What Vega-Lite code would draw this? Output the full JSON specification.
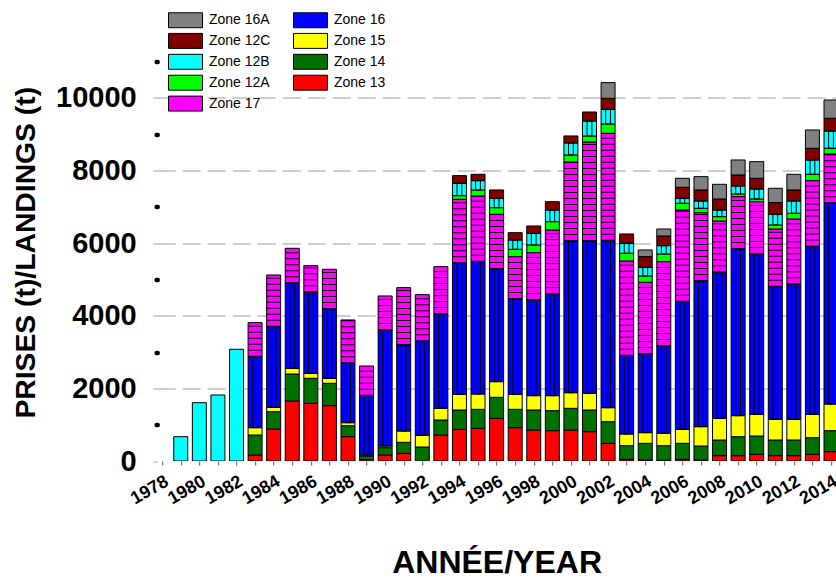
{
  "$schema": "https://vega.github.io/schema/vega-lite/v6.json",
  "width": 678.8,
  "height": 417.5,
  "autosize": {"type": "none"},
  "padding": {"left": 157.2, "top": 43.5, "right": 0, "bottom": 118},
  "background": "white",
  "config": {"view": {"stroke": null}, "font": "Liberation Sans"},
  "data": {"values": [
    {"year": 1979, "Zone 12B": 670},
    {"year": 1980, "Zone 12B": 1606},
    {"year": 1981, "Zone 12B": 1818},
    {"year": 1982, "Zone 12B": 3077},
    {"year": 1983, "Zone 13": 165, "Zone 14": 551, "Zone 15": 202, "Zone 16": 1956, "Zone 17": 937},
    {"year": 1984, "Zone 13": 882, "Zone 14": 477, "Zone 15": 120, "Zone 16": 2222, "Zone 17": 1423},
    {"year": 1985, "Zone 13": 1653, "Zone 14": 744, "Zone 15": 156, "Zone 16": 2342, "Zone 17": 964},
    {"year": 1986, "Zone 13": 1589, "Zone 14": 689, "Zone 15": 137, "Zone 16": 2232, "Zone 17": 734},
    {"year": 1987, "Zone 13": 1524, "Zone 14": 616, "Zone 15": 138, "Zone 16": 1910, "Zone 17": 1093},
    {"year": 1988, "Zone 13": 670, "Zone 14": 303, "Zone 15": 83, "Zone 16": 1635, "Zone 17": 1194},
    {"year": 1989, "Zone 13": 40, "Zone 14": 100, "Zone 15": 25, "Zone 16": 1635, "Zone 17": 817},
    {"year": 1990, "Zone 13": 165, "Zone 14": 202, "Zone 15": 46, "Zone 16": 3196, "Zone 17": 937},
    {"year": 1991, "Zone 13": 211, "Zone 14": 303, "Zone 15": 312, "Zone 16": 2370, "Zone 17": 1579},
    {"year": 1992, "Zone 14": 385, "Zone 15": 321, "Zone 16": 2590, "Zone 17": 1286},
    {"year": 1993, "Zone 13": 716, "Zone 14": 414, "Zone 15": 321, "Zone 16": 2599, "Zone 17": 1304},
    {"year": 1994, "Zone 13": 872, "Zone 14": 533, "Zone 15": 432, "Zone 16": 3609, "Zone 17": 1763, "Zone 12A": 101, "Zone 12B": 339, "Zone 12C": 212},
    {"year": 1995, "Zone 13": 900, "Zone 14": 523, "Zone 15": 423, "Zone 16": 3645, "Zone 17": 1809, "Zone 12A": 166, "Zone 12B": 257, "Zone 12C": 174},
    {"year": 1996, "Zone 13": 1175, "Zone 14": 579, "Zone 15": 432, "Zone 16": 3103, "Zone 17": 1506, "Zone 12A": 184, "Zone 12B": 257, "Zone 12C": 230},
    {"year": 1997, "Zone 13": 918, "Zone 14": 505, "Zone 15": 414, "Zone 16": 2626, "Zone 17": 1166, "Zone 12A": 202, "Zone 12B": 257, "Zone 12C": 202},
    {"year": 1998, "Zone 13": 854, "Zone 14": 551, "Zone 15": 395, "Zone 16": 2635, "Zone 17": 1304, "Zone 12A": 212, "Zone 12B": 321, "Zone 12C": 202},
    {"year": 1999, "Zone 13": 836, "Zone 14": 551, "Zone 15": 413, "Zone 16": 2801, "Zone 17": 1763, "Zone 12A": 229, "Zone 12B": 322, "Zone 12C": 229},
    {"year": 2000, "Zone 13": 854, "Zone 14": 597, "Zone 15": 431, "Zone 16": 4179, "Zone 17": 2176, "Zone 12A": 193, "Zone 12B": 331, "Zone 12C": 193},
    {"year": 2001, "Zone 13": 808, "Zone 14": 597, "Zone 15": 459, "Zone 16": 4197, "Zone 17": 2727, "Zone 12A": 165, "Zone 12B": 413, "Zone 12C": 248},
    {"year": 2002, "Zone 13": 487, "Zone 14": 597, "Zone 15": 385, "Zone 16": 4601, "Zone 17": 2957, "Zone 12A": 257, "Zone 12B": 404, "Zone 12C": 303, "Zone 16A": 432},
    {"year": 2003, "Zone 13": 46, "Zone 14": 376, "Zone 15": 322, "Zone 16": 2158, "Zone 17": 2608, "Zone 12A": 211, "Zone 12B": 276, "Zone 12C": 257},
    {"year": 2004, "Zone 13": 28, "Zone 14": 459, "Zone 15": 294, "Zone 16": 2167, "Zone 17": 1974, "Zone 12A": 175, "Zone 12B": 238, "Zone 12C": 294, "Zone 16A": 184},
    {"year": 2005, "Zone 13": 18, "Zone 14": 404, "Zone 15": 340, "Zone 16": 2406, "Zone 17": 2323, "Zone 12A": 212, "Zone 12B": 229, "Zone 12C": 267, "Zone 16A": 192},
    {"year": 2006, "Zone 13": 46, "Zone 14": 441, "Zone 15": 385, "Zone 16": 3517, "Zone 17": 2526, "Zone 12A": 183, "Zone 12B": 138, "Zone 12C": 303, "Zone 16A": 248},
    {"year": 2007, "Zone 13": 28, "Zone 14": 385, "Zone 15": 533, "Zone 16": 4013, "Zone 17": 1882, "Zone 12A": 120, "Zone 12B": 202, "Zone 12C": 303, "Zone 16A": 367},
    {"year": 2008, "Zone 13": 147, "Zone 14": 432, "Zone 15": 596, "Zone 16": 4023, "Zone 17": 1414, "Zone 12A": 119, "Zone 12B": 184, "Zone 12C": 303, "Zone 16A": 404},
    {"year": 2009, "Zone 13": 147, "Zone 14": 523, "Zone 15": 579, "Zone 16": 4591, "Zone 17": 1442, "Zone 12A": 74, "Zone 12B": 220, "Zone 12C": 303, "Zone 16A": 413},
    {"year": 2010, "Zone 13": 184, "Zone 14": 505, "Zone 15": 597, "Zone 16": 4417, "Zone 17": 1441, "Zone 12A": 74, "Zone 12B": 275, "Zone 12C": 294, "Zone 16A": 459},
    {"year": 2011, "Zone 13": 147, "Zone 14": 432, "Zone 15": 569, "Zone 16": 3655, "Zone 17": 1588, "Zone 12A": 111, "Zone 12B": 293, "Zone 12C": 322, "Zone 16A": 395},
    {"year": 2012, "Zone 13": 147, "Zone 14": 432, "Zone 15": 569, "Zone 16": 3719, "Zone 17": 1800, "Zone 12A": 156, "Zone 12B": 340, "Zone 12C": 303, "Zone 16A": 431},
    {"year": 2013, "Zone 13": 184, "Zone 14": 459, "Zone 15": 643, "Zone 16": 4619, "Zone 17": 1818, "Zone 12A": 174, "Zone 12B": 395, "Zone 12C": 322, "Zone 16A": 505},
    {"year": 2014, "Zone 13": 257, "Zone 14": 579, "Zone 15": 734, "Zone 16": 5528, "Zone 17": 1360, "Zone 12A": 156, "Zone 12B": 477, "Zone 12C": 349, "Zone 16A": 505}
  ]},
  "transform": [
    {"fold": ["Zone 13", "Zone 14", "Zone 15", "Zone 16", "Zone 17", "Zone 12A", "Zone 12B", "Zone 12C", "Zone 16A"], "as": ["zone", "value"]},
    {"filter": "datum.value > 0"},
    {"calculate": "indexof(['Zone 13','Zone 14','Zone 15','Zone 16','Zone 17','Zone 12A','Zone 12B','Zone 12C','Zone 16A'], datum.zone)", "as": "order"},
    {"stack": "value", "groupby": ["year"], "sort": [{"field": "order", "order": "ascending"}], "as": ["y0", "y1"]}
  ],
  "encoding": {
    "x": {
      "field": "year", "type": "quantitative",
      "scale": {"domain": [1978, 2014], "nice": false, "zero": false},
      "axis": {
        "values": [1978,1979,1980,1981,1982,1983,1984,1985,1986,1987,1988,1989,1990,1991,1992,1993,1994,1995,1996,1997,1998,1999,2000,2001,2002,2003,2004,2005,2006,2007,2008,2009,2010,2011,2012,2013,2014],
        "format": "d",
        "labelExpr": "datum.value % 2 == 0 ? datum.label : ''",
        "labelAngle": -30, "labelAlign": "right", "labelBaseline": "top",
        "labelFontSize": 18, "labelFontWeight": "bold", "labelColor": "black",
        "labelFlush": false, "labelOverlap": false, "labelPadding": 7,
        "tickSize": 4, "tickColor": "#555", "domain": false, "grid": false,
        "title": "ANNÉE/YEAR", "titleFontSize": 32, "titleFontWeight": "bold", "titleColor": "black", "titlePadding": 40
      }
    },
    "y": {
      "field": "y0", "type": "quantitative",
      "scale": {"domain": [0, 11500], "nice": false},
      "axis": {
        "values": [0,1000,2000,3000,4000,5000,6000,7000,8000,9000,10000,11000],
        "format": "d",
        "labelExpr": "datum.value % 2000 == 0 ? datum.label : ''",
        "labelFontSize": 29, "labelFontWeight": "bold", "labelColor": "black",
        "labelFlush": false, "labelOverlap": false, "labelPadding": 17,
        "tickCap": "round",
        "tickColor": {"condition": {"test": "datum.value % 2000 != 0", "value": "black"}, "value": "#aaaaaa"},
        "tickWidth": {"condition": {"test": "datum.value % 2000 != 0", "value": 4.5}, "value": 1},
        "tickSize": {"condition": {"test": "datum.value % 2000 != 0", "value": 1}, "value": 4},
        "domain": false,
        "grid": true, "gridColor": "#cfcfcf", "gridDash": [18, 7], "gridWidth": 2,
        "gridOpacity": {"condition": {"test": "datum.value % 2000 != 0 || datum.value == 0", "value": 0}, "value": 1},
        "title": "PRISES (t)/LANDINGS (t)", "titleFontSize": 28.3, "titleFontWeight": "bold", "titleColor": "black", "titlePadding": 15
      }
    },
    "y2": {"field": "y1"}
  },
  "layer": [
    {
      "mark": {"type": "bar", "size": 14, "stroke": "black", "strokeWidth": 1, "clip": true},
      "encoding": {
        "color": {
          "field": "zone", "type": "nominal",
          "scale": {
            "domain": ["Zone 16A", "Zone 12C", "Zone 12B", "Zone 12A", "Zone 17", "Zone 16", "Zone 15", "Zone 14", "Zone 13"],
            "range": ["#808080", "#800000", "#00ffff", "#00ff00", "#ff00ff", "#0000ff", "#ffff00", "#007000", "#ff0000"]
          },
          "legend": {
            "title": null, "orient": "none", "legendX": 19.3, "legendY": -32.5,
            "columns": 2, "padding": 0,
            "symbolType": "M-2,-0.88H2V0.88H-2Z", "symbolSize": 289,
            "symbolStrokeColor": "black", "symbolStrokeWidth": 1, "symbolOpacity": 1,
            "labelFontSize": 14, "labelColor": "black", "labelFont": "Liberation Sans",
            "labelOffset": 14.5, "columnPadding": 21, "rowPadding": 0.9
          }
        }
      }
    },
    {
      "transform": [{"filter": "datum.zone == 'Zone 16' || (datum.zone == 'Zone 12B' && datum.year >= 1994)"}],
      "mark": {"type": "bar", "size": 4.8, "fill": "transparent", "stroke": "black", "strokeWidth": 1, "clip": true},
      "encoding": {}
    },
    {
      "transform": [{"filter": "datum.zone == 'Zone 17'"}],
      "mark": {"type": "rule", "strokeWidth": 13, "strokeDash": [1, 5], "color": "black", "clip": true},
      "encoding": {}
    }
  ]
}
